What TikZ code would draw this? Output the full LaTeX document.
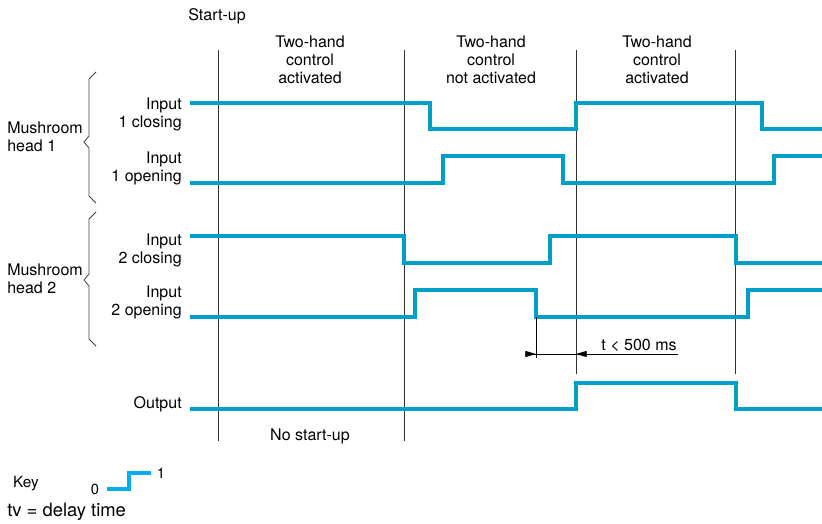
\documentclass[tikz,border=0pt]{standalone}
\usepackage{fontspec}
\setmainfont{TeX Gyre Heros}
\usetikzlibrary{arrows.meta}
\definecolor{sigblue}{RGB}{0,159,201}
\definecolor{keyblue}{RGB}{0,174,239}
\begin{document}
\begin{tikzpicture}[x=0.75pt,y=-0.75pt,
  sig/.style={draw=sigblue,line width=2.3pt,line join=miter},
  keysig/.style={draw=keyblue,line width=2.3pt,line join=miter},
  gridline/.style={draw=black!80,line width=0.6pt},
  brace/.style={draw=black!75,line width=0.6pt},
  dim/.style={draw=black,line width=0.6pt},
  lbl/.style={inner sep=0pt,font=\fontsize{12}{13.5}\selectfont},
  lblc/.style={lbl,align=center},
  lblr/.style={lbl,align=right,anchor=east},
  lbll/.style={lbl,align=left,anchor=west}]
\useasboundingbox (0,0) rectangle (822,524);

% phase boundaries
\draw[gridline] (218,50) -- (218,441);
\draw[gridline] (404,50) -- (404,441);
\draw[gridline] (576,50) -- (576,374);
\draw[gridline] (735,50) -- (735,374);

% headings
\node[lblc] (startup) at (217,16) {Start-up};
\node[lblc] (ph1) at (310,60) {Two-hand\\control\\activated};
\node[lblc] (ph2) at (491,60) {Two-hand\\control\\not activated};
\node[lblc] (ph3) at (657,60) {Two-hand\\control\\activated};
\node[lblc] (nostart) at (310,436) {No start-up};

% signal names
\node[lblr] (in1c) at (182,114) {Input\\1 closing};
\node[lblr] (in1o) at (182,168) {Input\\1 opening};
\node[lblr] (in2c) at (182,250) {Input\\2 closing};
\node[lblr] (in2o) at (182,302) {Input\\2 opening};
\node[lblr] (out) at (182,404) {Output};
\node[lbll] (mh1) at (7,137) {Mushroom\\head 1};
\node[lbll] (mh2) at (7,279) {Mushroom\\head 2};

% braces grouping the inputs
\draw[brace] (96,72) -- (89,79) -- (89,136) -- (84,142) -- (89,148) -- (89,196) -- (96,203);
\draw[brace] (96,212) -- (89,219) -- (89,274) -- (84,280) -- (89,286) -- (89,339) -- (96,346);

% timing waveforms
\draw[sig] (190,103) -| (430,129) -| (576,103) -| (762,129) -- (822,129);
\draw[sig] (190,183) -| (443,156) -| (563,183) -| (774,156) -- (822,156);
\draw[sig] (190,236) -| (404,263) -| (550,236) -| (736,263) -- (822,263);
\draw[sig] (190,317) -| (415,290) -| (536,317) -| (748,290) -- (822,290);
\draw[sig] (190,409) -| (576,383) -| (736,409) -- (822,409);

% time dimension
\coordinate (dA) at (536,354);
\coordinate (dB) at (576,354);
\draw[dim] (536,317) -- (536,358);
\draw[dim] (525,354) -- (678,354);
\draw[dim,-{Triangle[length=8pt,width=4.5pt]}] (525,354) -- (dA);
\draw[dim,-{Triangle[length=8pt,width=4.5pt]}] (588,354) -- (dB);
\node[lbl] (tlim) at (639,345) {t < 500 ms};

% key
\node[lbl,font=\fontsize{11.5}{13}\selectfont] (key) at (26,484) {Key};
\node[lbl,font=\fontsize{11}{13}\selectfont] (k0) at (95,489) {0};
\node[lbl,font=\fontsize{11}{13}\selectfont] (k1) at (161,473) {1};
\draw[keysig] (107,489) -| (129,473) -- (151,473);
\node[lbl,anchor=west,font=\fontsize{13.8}{15}\selectfont] (tv) at (7,512) {tv = delay time};
\end{tikzpicture}
\end{document}
